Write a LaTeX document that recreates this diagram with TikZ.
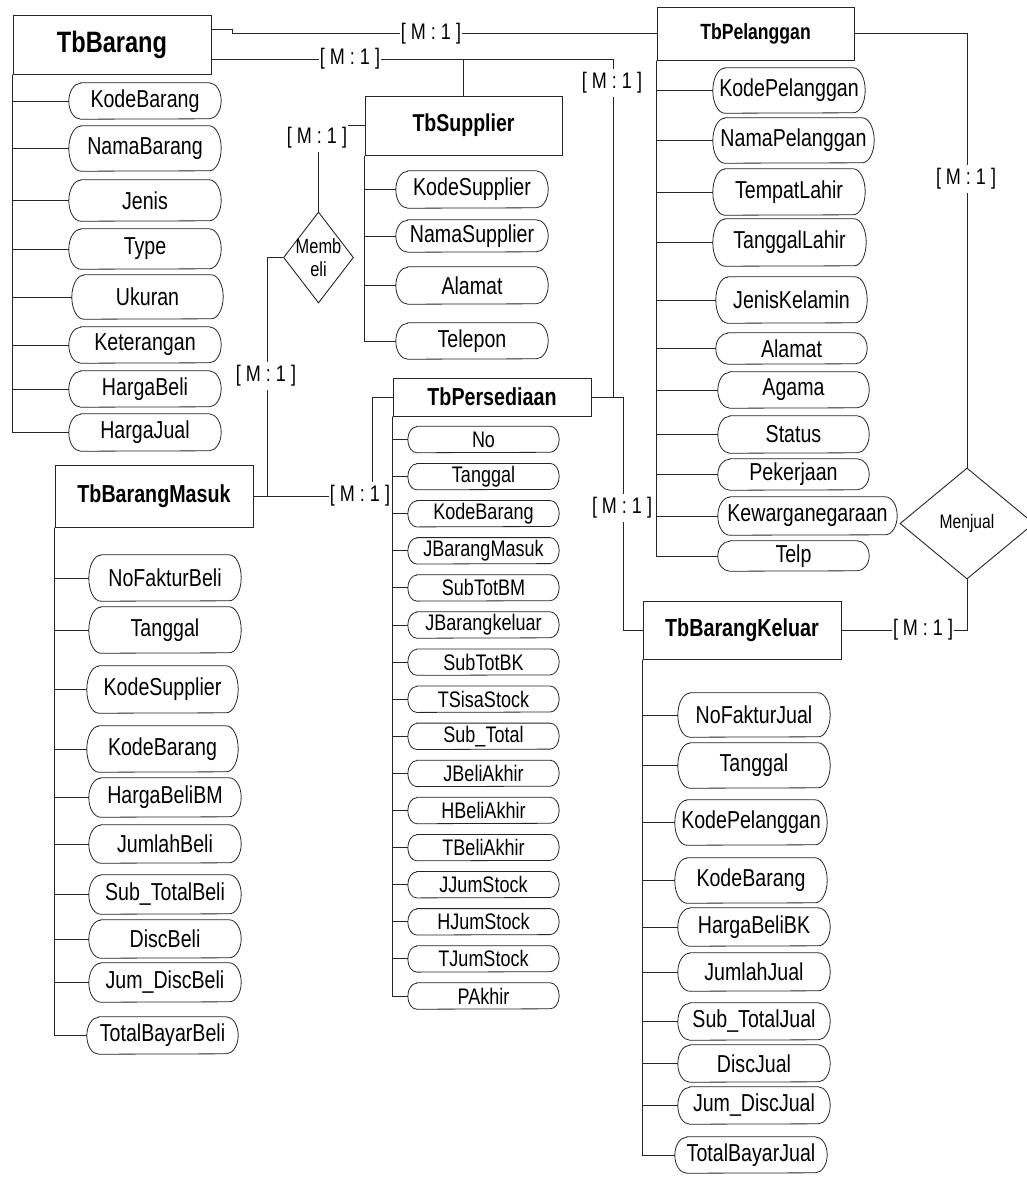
\documentclass[tikz,border=0pt]{standalone}
\usepackage{fontspec}
\setmainfont[FakeStretch=0.8]{Liberation Sans}
\usetikzlibrary{shapes.geometric}

\tikzset{
  x=1pt, y=1pt,
  conn/.style={draw=black!85, line width=0.9pt},
  entity/.style={draw=black!85, line width=1pt, rectangle, inner sep=0pt,
    font=\bfseries\fontsize{#1}{#1}\selectfont},
  attrnode/.style={inner sep=0pt, font=\fontsize{\attrsize}{\attrsize}\selectfont},
  attrline/.style={draw=black!85, line width=0.8pt},
  card/.style={fill=white, inner xsep=1pt, inner ysep=4pt,
    font=\fontsize{22.5}{26}\selectfont},
  rel/.style={draw=black!85, line width=0.9pt, diamond, inner sep=0pt},
  reltext/.style={inner sep=0pt, align=center, font=\fontsize{#1}{23}\selectfont},
}

% attribute oval: name, centre x, centre y (downwards), width, height, end radius, text
\newcommand\erattr[7]{%
  \node[attrnode, minimum width=#4pt, minimum height=#5pt] (#1) at (#2,-#3) {#7};
  \draw[attrline] ([xshift=#6pt]#1.north west) -- ([xshift=-#6pt]#1.north east)
    arc[start angle=90, end angle=-90, x radius=#6pt, y radius=#5pt/2]
    -- ([xshift=#6pt]#1.south west)
    arc[start angle=270, end angle=90, x radius=#6pt, y radius=#5pt/2] -- cycle;
}

\begin{document}
\begin{tikzpicture}
\useasboundingbox[fill=white] (0,0) rectangle (1027,-1192);

% ---------------- entities
\node[entity=29.5, minimum width=198pt, minimum height=59pt] (TbBarang) at (112,-44.5) {TbBarang};
\node[entity=24.4, minimum width=197pt, minimum height=59pt] (TbSupplier) at (463.5,-125.5) {TbSupplier};
\node[entity=22, minimum width=197pt, minimum height=53pt] (TbPelanggan) at (755.5,-33.5) {TbPelanggan};
\node[entity=24.6, minimum width=198pt, minimum height=38pt] (TbPersediaan) at (492,-397) {TbPersediaan};
\node[entity=24.6, minimum width=198pt, minimum height=62pt] (TbBarangMasuk) at (154,-496) {TbBarangMasuk};
\node[entity=24.7, minimum width=198pt, minimum height=58pt] (TbBarangKeluar) at (742,-630) {TbBarangKeluar};

% ---------------- relationships
\node[rel, minimum width=70pt, minimum height=91pt] (Membeli) at (318.5,-257.5) {};
\node[reltext=20.5] (MembeliText) at (Membeli.center) {Memb\\eli};
\node[rel, minimum width=134pt, minimum height=111pt] (Menjual) at (967,-523.5) {};
\node[reltext=19.5] (MenjualText) at (Menjual.center) {Menjual};

% ---------------- connectors
\coordinate (c1) at (232,-29);
\coordinate (c2) at (232,-33.5);
\draw[conn] (TbBarang.east |- c1) -- (c1) -- (c2) -- (TbPelanggan.west);

\coordinate (c3) at (613,-59);
\draw[conn] (TbBarang.east |- c3) -- (c3) -- (c3 |- TbPersediaan.east) -- (TbPersediaan.east);
\draw[conn] (TbSupplier.north |- c3) -- (TbSupplier.north);

\coordinate (c5) at (623,-397);
\draw[conn] (TbPersediaan.east) -- (c5) -- (c5 |- TbBarangKeluar.west) -- (TbBarangKeluar.west);

\draw[conn] (TbPelanggan.east) -| (Menjual.north);
\draw[conn] (Menjual.south) |- (TbBarangKeluar.east);

\draw[conn] (TbSupplier.west) -| (Membeli.north);
\coordinate (c6) at (267,-496);
\draw[conn] (Membeli.west) -| (c6);
\coordinate (c7) at (372,-496);
\draw[conn] (TbBarangMasuk.east) -- (c7) |- (TbPersediaan.west);

% ---------------- cardinalities
\node[card] (card1) at (431,-33.5) {[ M : 1 ]};
\node[card] (card2) at (350,-59) {[ M : 1 ]};
\node[card] (card3) at (612,-83) {[ M : 1 ]};
\node[card] (card4) at (622,-508) {[ M : 1 ]};
\node[card] (card5) at (966,-179) {[ M : 1 ]};
\node[card] (card6) at (923,-630) {[ M : 1 ]};
\node[card] (card7) at (317,-138) {[ M : 1 ]};
\node[card] (card8) at (266,-376) {[ M : 1 ]};
\node[card] (card9) at (360,-496) {[ M : 1 ]};

% ---------------- attributes of TbBarang
\def\attrsize{24.5}
\erattr{ba1}{145}{101}{152}{36}{12}{KodeBarang}
\erattr{ba2}{145}{148.5}{152}{45}{12}{NamaBarang}
\erattr{ba3}{145}{200.5}{152}{41}{12}{Jenis}
\erattr{ba4}{145}{249}{152}{40}{12}{Type}
\erattr{ba5}{147.5}{297}{151}{44}{12}{Ukuran}
\erattr{ba6}{145}{345}{152}{36}{12}{Keterangan}
\erattr{ba7}{145}{389}{152}{36}{12}{HargaBeli}
\erattr{ba8}{145}{432.5}{152}{37}{12}{HargaJual}
\foreach \i in {1,...,8} \draw[conn] (TbBarang.south west) |- (ba\i.west);

% ---------------- attributes of TbSupplier
\erattr{sa1}{472}{189.5}{152}{37}{12}{KodeSupplier}
\erattr{sa2}{472}{236}{152}{32}{12}{NamaSupplier}
\erattr{sa3}{472}{285.5}{152}{37}{12}{Alamat}
\erattr{sa4}{472}{341}{152}{36}{12}{Telepon}
\foreach \i in {1,...,4} \draw[conn] (TbSupplier.south west) |- (sa\i.west);

% ---------------- attributes of TbPelanggan
\erattr{pa1}{789}{90.5}{152}{45}{12}{KodePelanggan}
\erattr{pa2}{793.5}{140.5}{161}{45}{12}{NamaPelanggan}
\erattr{pa3}{789}{192}{152}{46}{12}{TempatLahir}
\erattr{pa4}{789.5}{242.5}{153}{47}{12}{TanggalLahir}
\erattr{pa5}{791.5}{300}{151}{46}{12}{JenisKelamin}
\erattr{pa6}{791.5}{348.5}{151}{31}{12}{Alamat}
\erattr{pa7}{793.5}{390}{151}{36}{12}{Agama}
\erattr{pa8}{793.5}{434.5}{151}{37}{12}{Status}
\erattr{pa9}{793.5}{474.5}{151}{31}{12}{Pekerjaan}
\erattr{pa10}{807.5}{516}{179}{38}{12}{Kewarganegaraan}
\erattr{pa11}{793.5}{556}{151}{30}{12}{Telp}
\foreach \i in {1,...,11} \draw[conn] (TbPelanggan.south west) |- (pa\i.west);

% ---------------- attributes of TbBarangMasuk
\erattr{ma1}{165}{578}{152}{46}{12}{NoFakturBeli}
\erattr{ma2}{165}{630}{152}{46}{12}{Tanggal}
\erattr{ma3}{162.5}{689.5}{151}{47}{12}{KodeSupplier}
\erattr{ma4}{162.5}{749}{151}{46}{12}{KodeBarang}
\erattr{ma5}{165}{797.5}{152}{39}{12}{HargaBeliBM}
\erattr{ma6}{165}{844}{152}{38}{12}{JumlahBeli}
\erattr{ma7}{165}{894.5}{152}{39}{12}{Sub\_TotalBeli}
\erattr{ma8}{165}{939}{152}{38}{12}{DiscBeli}
\erattr{ma9}{165}{982.5}{152}{39}{12}{Jum\_DiscBeli}
\erattr{ma10}{162.5}{1035.5}{151}{37}{12}{TotalBayarBeli}
\foreach \i in {1,...,10} \draw[conn] (TbBarangMasuk.south west) |- (ma\i.west);

% ---------------- attributes of TbBarangKeluar
\erattr{ka1}{754}{715}{152}{44}{12}{NoFakturJual}
\erattr{ka2}{754}{765.5}{152}{45}{12}{Tanggal}
\erattr{ka3}{751}{822.5}{152}{45}{12}{KodePelanggan}
\erattr{ka4}{751}{880.5}{152}{45}{12}{KodeBarang}
\erattr{ka5}{754}{927}{152}{38}{12}{HargaBeliBK}
\erattr{ka6}{754}{972}{152}{38}{12}{JumlahJual}
\erattr{ka7}{754}{1021.5}{152}{37}{12}{Sub\_TotalJual}
\erattr{ka8}{754}{1063.5}{152}{37}{12}{DiscJual}
\erattr{ka9}{754}{1105.5}{152}{37}{12}{Jum\_DiscJual}
\erattr{ka10}{751}{1155}{152}{36}{12}{TotalBayarJual}
\foreach \i in {1,...,10} \draw[conn] (TbBarangKeluar.south west) |- (ka\i.west);

% ---------------- attributes of TbPersediaan
\def\attrsize{22.5}
\foreach \t [count=\i from 0] in {No,Tanggal,KodeBarang,JBarangMasuk,SubTotBM,JBarangkeluar,SubTotBK,TSisaStock,Sub\_Total,JBeliAkhir,HBeliAkhir,TBeliAkhir,JJumStock,HJumStock,TJumStock,PAkhir}{
  \pgfmathsetmacro\yy{439.5+37.1*\i}
  \erattr{ra\i}{483.5}{\yy}{151}{26}{9}{\t}
  \draw[conn] (TbPersediaan.south west) |- (ra\i.west);
}
\end{tikzpicture}
\end{document}
